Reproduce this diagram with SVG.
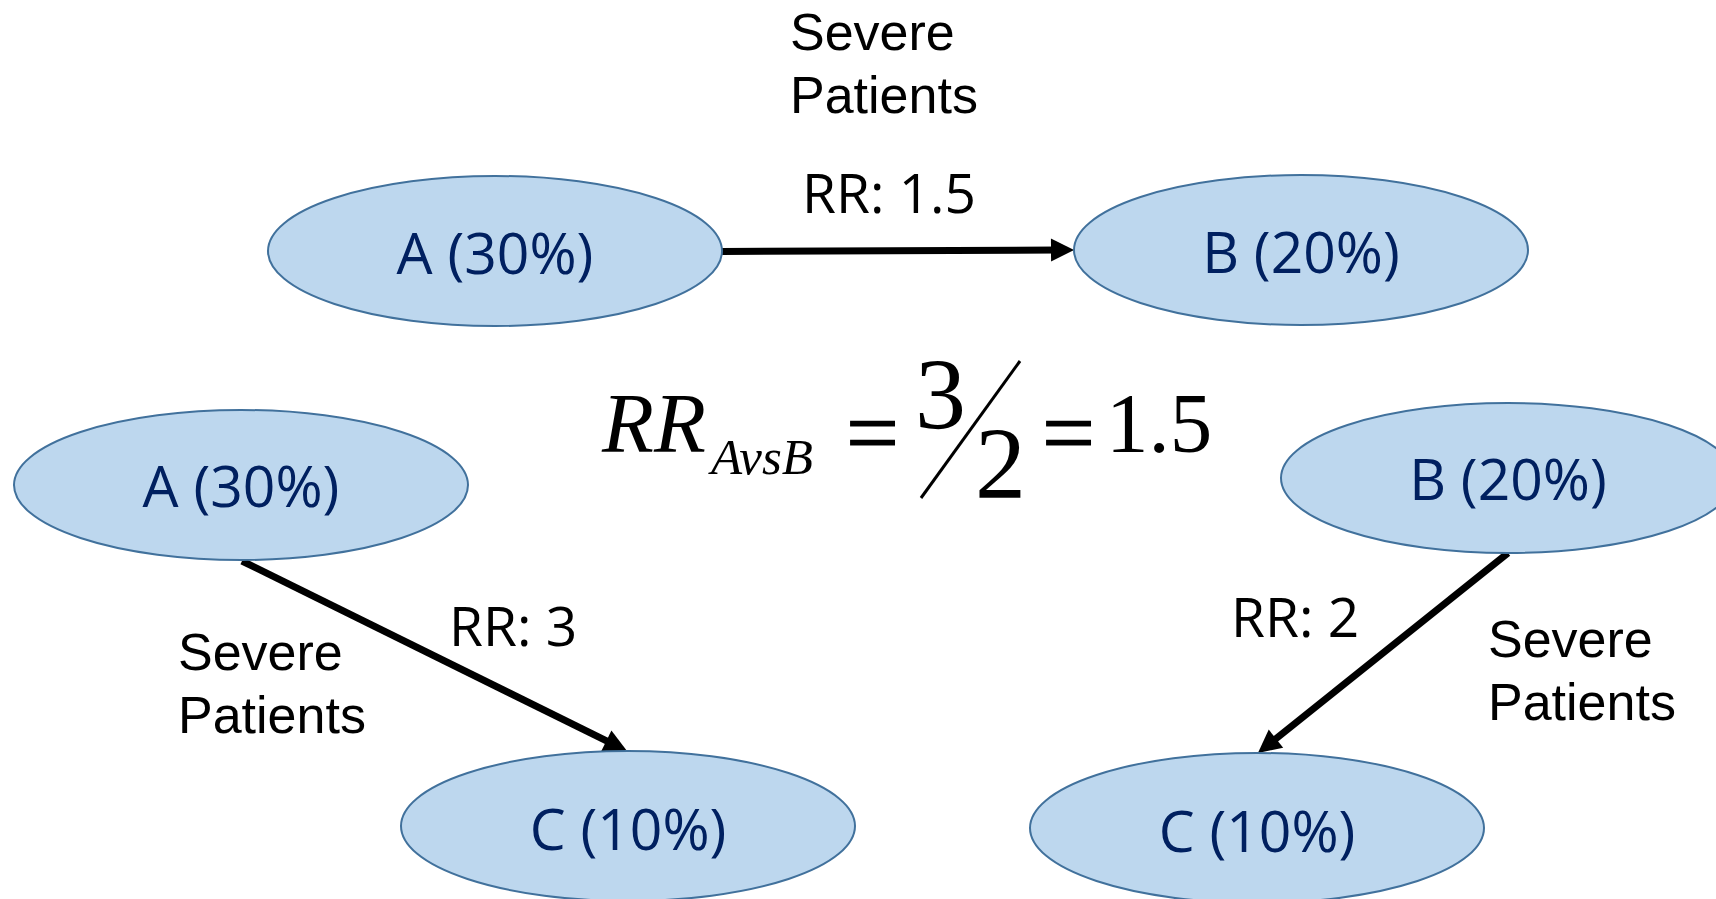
<svg xmlns="http://www.w3.org/2000/svg" width="1716" height="899" viewBox="0 0 1716 899">
<style>
.node ellipse{fill:#BDD7EE;stroke:#41719C;stroke-width:2}
.node text{font-family:"Open Sans","Noto Sans",sans-serif;font-size:57px;fill:#002060;text-anchor:middle}
.rr{font-family:"Open Sans","Noto Sans",sans-serif;font-size:55px;fill:#000}
.sev{font-family:"Liberation Sans",Arial,sans-serif;font-size:52px;fill:#000}
.conn line{stroke:#000;stroke-width:7}
.math{font-family:"Liberation Serif","Times New Roman",serif;fill:#000}
.eq{font-size:94px;stroke:#000;stroke-width:1.2}
</style>
<defs>
<marker id="arr" markerUnits="strokeWidth" markerWidth="3.3" markerHeight="3.3" refX="1" refY="1.65" orient="auto" overflow="visible">
<path d="M0,0 L3.3,1.65 L0,3.3 z" fill="#000"/>
</marker>
</defs>
<rect width="1716" height="899" fill="#fff"/>
<g class="conn">
<line x1="722" y1="251.5" x2="1058" y2="250" marker-end="url(#arr)"/>
<line x1="242" y1="561" x2="612.6" y2="743.9" marker-end="url(#arr)"/>
<line x1="1508" y1="553" x2="1270.5" y2="743" marker-end="url(#arr)"/>
</g>
<g id="nodeA_top" class="node"><ellipse cx="495" cy="251" rx="227" ry="75"/><text x="495" y="274">A (30%)</text></g>
<g id="nodeB_top" class="node"><ellipse cx="1301" cy="250" rx="227" ry="75"/><text x="1301" y="273">B (20%)</text></g>
<g id="nodeA_left" class="node"><ellipse cx="241" cy="485" rx="227" ry="75"/><text x="241" y="507">A (30%)</text></g>
<g id="nodeC_left" class="node"><ellipse cx="628" cy="826" rx="227" ry="75"/><text x="628" y="850">C (10%)</text></g>
<g id="nodeB_right" class="node"><ellipse cx="1508" cy="478" rx="227" ry="75"/><text x="1508" y="500">B (20%)</text></g>
<g id="nodeC_right" class="node"><ellipse cx="1257" cy="828" rx="227" ry="75"/><text x="1257" y="852">C (10%)</text></g>
<g id="labels">
<text class="sev" x="790" y="50">Severe</text>
<text class="sev" x="790" y="113">Patients</text>
<text class="rr" x="802" y="213">RR: 1.5</text>
<text class="rr" x="449" y="646">RR: 3</text>
<text class="sev" x="178" y="670">Severe</text>
<text class="sev" x="178" y="733">Patients</text>
<text class="rr" x="1231" y="637">RR: 2</text>
<text class="sev" x="1488" y="657">Severe</text>
<text class="sev" x="1488" y="720">Patients</text>
</g>
<g id="formula">
<text class="math" x="602" y="452" font-size="85" font-style="italic">RR</text>
<text class="math" x="711" y="474" font-size="51" font-style="italic">AvsB</text>
<text class="math eq" x="846" y="464">=</text>
<text class="math" x="915" y="429" font-size="102">3</text>
<line x1="921" y1="498" x2="1020" y2="361" stroke="#000" stroke-width="3"/>
<text class="math" x="975" y="498" font-size="102">2</text>
<text class="math eq" x="1042" y="464">=</text>
<text class="math" x="1106" y="452" font-size="85">1.5</text>
</g>
</svg>
